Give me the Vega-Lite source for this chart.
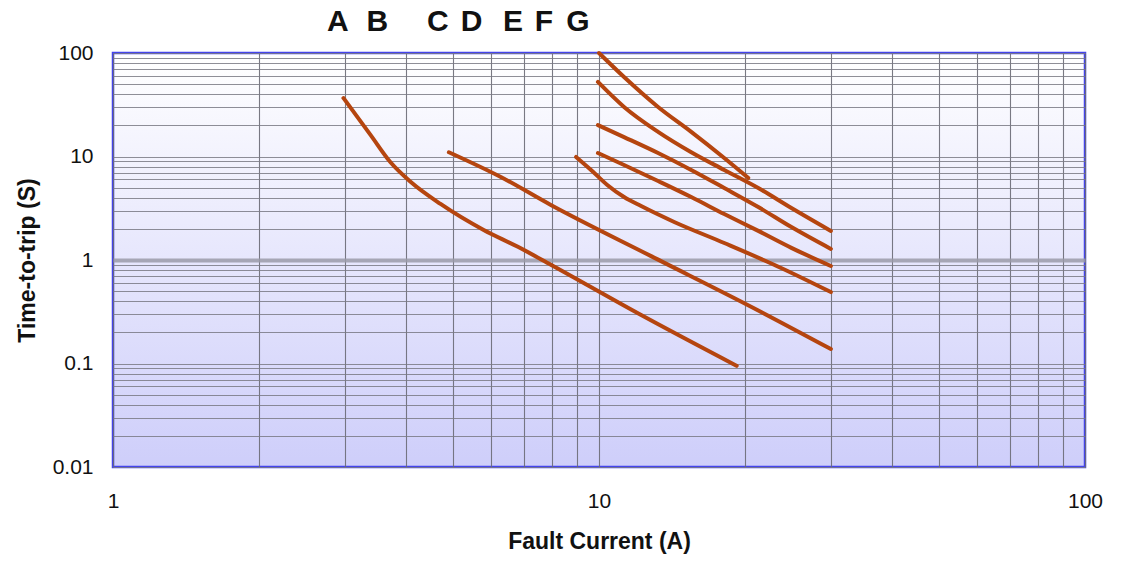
{
  "$schema": "https://vega.github.io/schema/vega-lite/v6.json",
  "width": 972,
  "height": 414,
  "autosize": {"type": "none"},
  "padding": {"left": 113, "top": 53, "right": 38, "bottom": 94},
  "background": "white",
  "config": {
    "view": {
      "stroke": "#4444ee",
      "strokeWidth": 2.5,
      "fill": {
        "gradient": "linear",
        "x1": 0, "y1": 0, "x2": 0, "y2": 1,
        "stops": [
          {"offset": 0, "color": "#ffffff"},
          {"offset": 1, "color": "#cecefa"}
        ]
      }
    },
    "font": "Liberation Sans"
  },
  "layer": [
    {
      "data": {
        "values": [
          {"curve": "1", "current": 2.98, "time": 36.7},
          {"curve": "1", "current": 3.39, "time": 16.1},
          {"curve": "1", "current": 3.72, "time": 8.85},
          {"curve": "1", "current": 4.10, "time": 5.67},
          {"curve": "1", "current": 4.72, "time": 3.48},
          {"curve": "1", "current": 5.79, "time": 1.95},
          {"curve": "1", "current": 6.81, "time": 1.34},
          {"curve": "1", "current": 7.96, "time": 0.90},
          {"curve": "1", "current": 12.21, "time": 0.294},
          {"curve": "1", "current": 19.2, "time": 0.095},
          {"curve": "2", "current": 4.91, "time": 11.0},
          {"curve": "2", "current": 6.28, "time": 6.34},
          {"curve": "2", "current": 7.96, "time": 3.40},
          {"curve": "2", "current": 12.8, "time": 1.09},
          {"curve": "2", "current": 20.6, "time": 0.352},
          {"curve": "2", "current": 30, "time": 0.138},
          {"curve": "3", "current": 8.97, "time": 9.9},
          {"curve": "3", "current": 9.63, "time": 7.41},
          {"curve": "3", "current": 10.4, "time": 5.31},
          {"curve": "3", "current": 11.26, "time": 4.06},
          {"curve": "3", "current": 12.21, "time": 3.32},
          {"curve": "3", "current": 14.28, "time": 2.33},
          {"curve": "3", "current": 18.1, "time": 1.46},
          {"curve": "3", "current": 23.7, "time": 0.838},
          {"curve": "3", "current": 30, "time": 0.49},
          {"curve": "4", "current": 9.95, "time": 10.8},
          {"curve": "4", "current": 11.26, "time": 8.28},
          {"curve": "4", "current": 13.23, "time": 5.80},
          {"curve": "4", "current": 15.48, "time": 4.06},
          {"curve": "4", "current": 18.1, "time": 2.78},
          {"curve": "4", "current": 21.27, "time": 1.91},
          {"curve": "4", "current": 24.88, "time": 1.31},
          {"curve": "4", "current": 30, "time": 0.875},
          {"curve": "5", "current": 9.95, "time": 20.1},
          {"curve": "5", "current": 11.26, "time": 15.4},
          {"curve": "5", "current": 13.23, "time": 10.8},
          {"curve": "5", "current": 15.48, "time": 7.41},
          {"curve": "5", "current": 18.1, "time": 4.96},
          {"curve": "5", "current": 21.27, "time": 3.25},
          {"curve": "5", "current": 24.88, "time": 2.08},
          {"curve": "5", "current": 30, "time": 1.28},
          {"curve": "6", "current": 9.95, "time": 52.5},
          {"curve": "6", "current": 11.26, "time": 30.1},
          {"curve": "6", "current": 13.23, "time": 17.3},
          {"curve": "6", "current": 15.48, "time": 11.0},
          {"curve": "6", "current": 18.1, "time": 7.41},
          {"curve": "6", "current": 21.27, "time": 4.96},
          {"curve": "6", "current": 24.88, "time": 3.18},
          {"curve": "6", "current": 30, "time": 1.91},
          {"curve": "7", "current": 10.0, "time": 100},
          {"curve": "7", "current": 11.26, "time": 58.6},
          {"curve": "7", "current": 13.23, "time": 30.1},
          {"curve": "7", "current": 15.48, "time": 17.3},
          {"curve": "7", "current": 18.1, "time": 9.67},
          {"curve": "7", "current": 20.29, "time": 6.2}
        ]
      },
      "mark": {"type": "line", "color": "#b5450f", "strokeWidth": 4, "strokeCap": "round", "interpolate": "monotone"},
      "encoding": {
        "detail": {"field": "curve"},
        "x": {
          "field": "current", "type": "quantitative",
          "scale": {"type": "log", "domain": [1, 100], "nice": false},
          "axis": {
            "title": "Fault Current (A)",
            "values": [1, 2, 3, 4, 5, 6, 7, 8, 9, 10, 20, 30, 40, 50, 60, 70, 80, 90, 100],
            "format": "~g",
            "labelExpr": "datum.value == 1 || datum.value == 10 || datum.value == 100 ? datum.label : ''",
            "labelFlush": false,
            "labelOverlap": false,
            "ticks": false,
            "tickSize": 0,
            "domain": false,
            "grid": true,
            "gridColor": "#6a6a75",
            "gridOpacity": 0.9,
            "gridWidth": 1.1,
            "labelFont": "Liberation Sans",
            "labelFontSize": 21,
            "labelColor": "#111111",
            "labelPadding": 23,
            "titleFont": "Liberation Sans",
            "titleFontSize": 23,
            "titleFontWeight": "bold",
            "titleColor": "#111111",
            "titlePadding": 19
          }
        },
        "y": {
          "field": "time", "type": "quantitative",
          "scale": {"type": "log", "domain": [0.01, 100], "nice": false},
          "axis": {
            "title": "Time-to-trip (S)",
            "values": [0.01, 0.02, 0.03, 0.04, 0.05, 0.06, 0.07, 0.08, 0.09, 0.1, 0.2, 0.3, 0.4, 0.5, 0.6, 0.7, 0.8, 0.9, 1, 2, 3, 4, 5, 6, 7, 8, 9, 10, 20, 30, 40, 50, 60, 70, 80, 90, 100],
            "format": "~g",
            "labelExpr": "datum.value == 0.01 || datum.value == 0.1 || datum.value == 1 || datum.value == 10 || datum.value == 100 ? datum.label : ''",
            "labelFlush": false,
            "labelOverlap": false,
            "ticks": false,
            "tickSize": 0,
            "domain": false,
            "grid": true,
            "gridColor": {"condition": {"test": "datum.value == 1", "value": "#9a9aa8"}, "value": "#7a7a85"},
            "gridOpacity": 0.85,
            "gridWidth": {"condition": {"test": "datum.value == 1", "value": 4}, "value": 1.1},
            "labelFont": "Liberation Sans",
            "labelFontSize": 21,
            "labelColor": "#111111",
            "labelPadding": 20,
            "titleFont": "Liberation Sans",
            "titleFontSize": 23,
            "titleFontWeight": "bold",
            "titleColor": "#111111",
            "titlePadding": 13
          }
        }
      }
    },
    {
      "data": {
        "values": [
          {"label": "A", "current": 2.9},
          {"label": "B", "current": 3.5},
          {"label": "C", "current": 4.66},
          {"label": "D", "current": 5.47},
          {"label": "E", "current": 6.65},
          {"label": "F", "current": 7.7},
          {"label": "G", "current": 9.05}
        ]
      },
      "mark": {"type": "text", "fontSize": 30, "fontWeight": "bold", "font": "Liberation Sans", "color": "#111111", "baseline": "middle", "align": "center", "dy": -31},
      "encoding": {
        "x": {"field": "current", "type": "quantitative", "scale": {"type": "log", "domain": [1, 100], "nice": false}},
        "y": {"datum": 100, "type": "quantitative", "scale": {"type": "log", "domain": [0.01, 100], "nice": false}},
        "text": {"field": "label"}
      }
    }
  ]
}
